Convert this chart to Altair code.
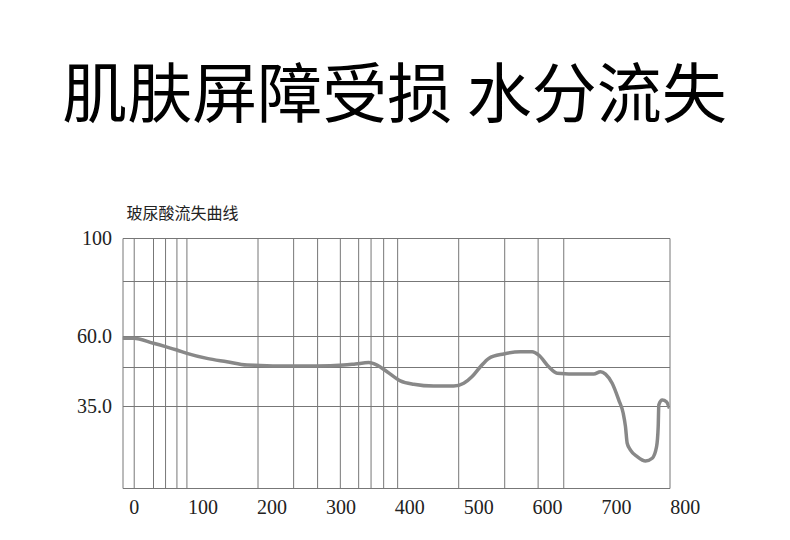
import altair as alt
import pandas as pd

title_text = "肌肤屏障受损 水分流失"
subtitle_text = "玻尿酸流失曲线"

curve_x = [-17, -1.0, 28.0, 45.5, 62.0, 76.5, 105.6, 134.6, 163.7, 183.0,
           207.3, 231.4, 265.4, 304.0, 321.0, 340.3, 352.5, 367.0, 386.3, 405.7,
           434.7, 463.8, 478.3, 490.5, 502.5, 514.6, 536.4, 560.6, 577.6, 587.2,
           601.7, 613.9, 647.8, 667.1, 676.8, 684.1, 693.8, 703.4, 709.8, 713.1,
           715.6, 720.4, 730.1, 742.2, 751.9, 758.2, 760.6, 761.5, 766.5, 772.7, 777]
curve_y = [59.2, 59.2, 57.4, 56.2, 55.0, 53.8, 52.0, 50.8, 49.6, 49.5,
           49.3, 49.3, 49.3, 49.6, 50.0, 50.5, 49.6, 47.25, 44.0, 42.75,
           42.1, 42.1, 43.1, 45.5, 49.0, 52.0, 53.6, 54.4, 54.4, 53.2,
           49.0, 46.7, 46.4, 46.4, 47.25, 46.4, 43.1, 37.1, 31.9, 26.2,
           19.1, 16.2, 13.4, 11.5, 12.7, 17.6, 26.2, 35.4, 37.1, 36.5, 34.0]

x_labels = [0, 100, 200, 300, 400, 500, 600, 700, 800]
x_grid = [0, 28.0, 45.5, 62.0, 76.5, 179.7, 231.4, 266.2, 299.2, 325.8,
          343.8, 362.1, 382.4, 471.0, 537.8, 586.3, 623.5]
y_grid = [100, 82.6, 60, 48.9, 35]
y_domain = [0, 35, 60, 100]

W, H = 547, 250

curve_df = pd.DataFrame({"x": curve_x, "y": curve_y})
lab_df = pd.DataFrame({"x": x_labels, "t": [str(v) for v in x_labels]})
grid_df = pd.DataFrame({"x": x_grid})

xscale = alt.Scale(domain=[-17, 777], nice=False, zero=False)
yscale = alt.Scale(domain=y_domain, range=[H, 168, 98, 0], nice=False, zero=False)

x_axis = alt.Axis(labels=False, ticks=False, domain=False, title=None, grid=False)
y_axis = alt.Axis(values=y_grid, ticks=False, domain=False, title=None,
                  grid=True, gridColor="#777777", gridWidth=1, labelOverlap=False,
                  labelExpr="datum.value == 100 ? '100' : ((datum.value == 60 || datum.value == 35) ? format(datum.value, '.1f') : '')",
                  labelFont="Liberation Serif", labelFontSize=20, labelColor="#222222",
                  labelPadding=11)

vgrid = alt.Chart(grid_df).mark_rule(color="#777777", strokeWidth=1).encode(
    x=alt.X("x:Q", scale=xscale, axis=x_axis),
)

line = alt.Chart(curve_df).mark_line(
    color="#888888", strokeWidth=3.5, interpolate="monotone", clip=True
).encode(
    x=alt.X("x:Q", scale=xscale, axis=x_axis),
    y=alt.Y("y:Q", scale=yscale, axis=y_axis),
)

xlabels = alt.Chart(lab_df).mark_text(
    font="Liberation Serif", fontSize=20, color="#222222", baseline="middle", align="center"
).encode(
    x=alt.X("x:Q", scale=xscale),
    y=alt.value(H + 20),
    text="t:N",
)

title = alt.Chart(pd.DataFrame({"t": [title_text]})).mark_text(
    font="Noto Sans CJK SC", fontSize=65, color="#000000", baseline="middle", align="center"
).encode(x=alt.value(272), y=alt.value(-141), text="t:N")

subtitle = alt.Chart(pd.DataFrame({"t": [subtitle_text]})).mark_text(
    font="Noto Sans CJK SC", fontSize=16, color="#222222", baseline="middle", align="left"
).encode(x=alt.value(4), y=alt.value(-24), text="t:N")

chart = alt.layer(vgrid, line, xlabels, title, subtitle).properties(
    width=W, height=H,
    autosize=alt.AutoSizeParams(type="none"),
    padding={"left": 114.5, "top": 230, "right": 100, "bottom": 40},
).configure_view(stroke="#777777", strokeWidth=1)

chart.save("out.html", embed_options={"renderer": "svg", "actions": False})
